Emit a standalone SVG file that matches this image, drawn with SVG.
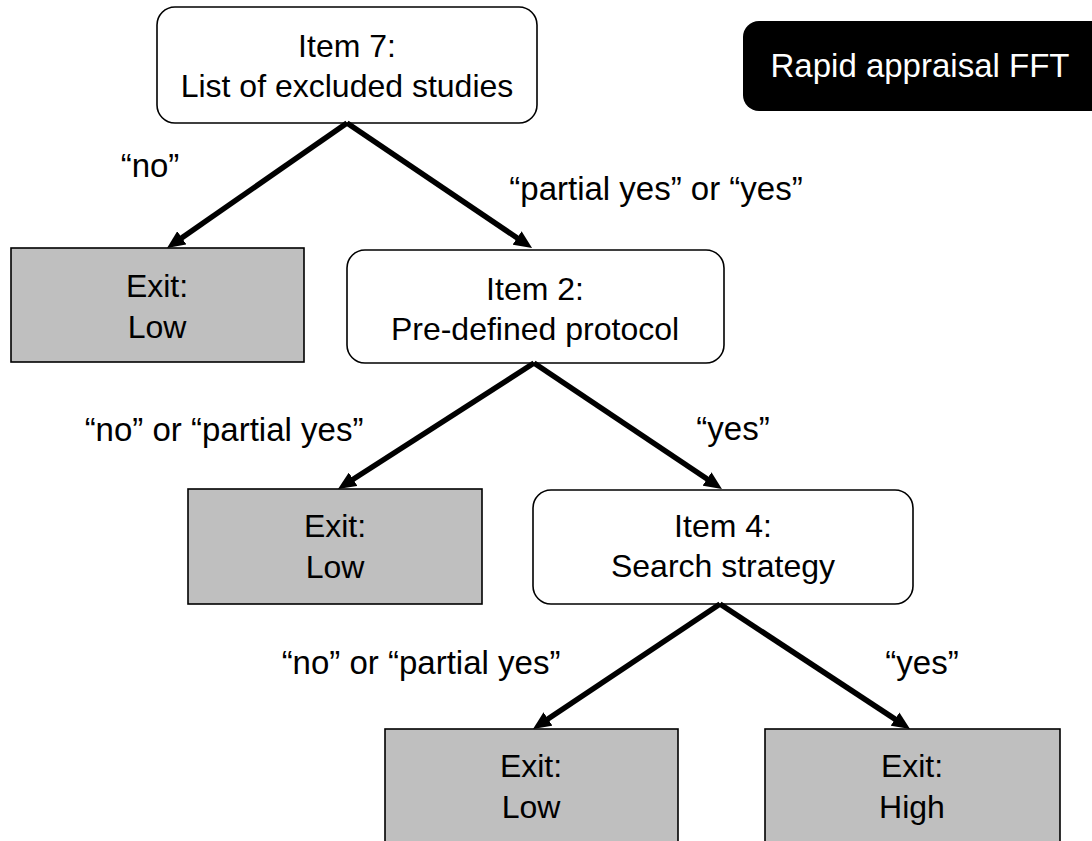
<svg xmlns="http://www.w3.org/2000/svg" width="1092" height="841" viewBox="0 0 1092 841">
  <style>
    .item { fill: #ffffff; stroke: #000000; stroke-width: 1.6; }
    .exit { fill: #bfbfbf; stroke: #000000; stroke-width: 1.6; }
    .txt { font-family: "Liberation Sans", Arial, sans-serif; font-size: 32px; fill: #000000; text-anchor: middle; }
    .lbl { font-family: "Liberation Sans", Arial, sans-serif; font-size: 33px; fill: #000000; text-anchor: middle; }
    .wtxt { font-family: "Liberation Sans", Arial, sans-serif; font-size: 33px; fill: #ffffff; text-anchor: middle; }
    .conn { stroke: #000000; stroke-width: 5.5; fill: none; marker-end: url(#arrow); }
  </style>
  <defs>
    <marker id="arrow" markerUnits="userSpaceOnUse" viewBox="0 0 18 16" markerWidth="18" markerHeight="16" refX="6" refY="8" orient="auto">
      <path d="M0,0 L18,8 L0,16 z" fill="#000000"/>
    </marker>
  </defs>
  <rect width="1092" height="841" fill="#ffffff"/>

  <g id="title">
    <rect x="743" y="21" width="380" height="90" rx="16" fill="#000000"/>
    <text class="wtxt" x="920" y="77">Rapid appraisal FFT</text>
  </g>

  <g id="item7">
    <rect class="item" x="157" y="7" width="380" height="116" rx="18"/>
    <text class="txt" x="347" y="57">Item 7:</text>
    <text class="txt" x="347" y="97">List of excluded studies</text>
  </g>

  <g id="exit1">
    <rect class="exit" x="11" y="248" width="293" height="114"/>
    <text class="txt" x="157" y="297">Exit:</text>
    <text class="txt" x="157" y="338">Low</text>
  </g>

  <g id="item2">
    <rect class="item" x="347" y="250" width="377" height="113" rx="18"/>
    <text class="txt" x="535" y="300">Item 2:</text>
    <text class="txt" x="535" y="340">Pre-defined protocol</text>
  </g>

  <g id="exit2">
    <rect class="exit" x="188" y="489" width="294" height="115"/>
    <text class="txt" x="335" y="537">Exit:</text>
    <text class="txt" x="335" y="578">Low</text>
  </g>

  <g id="item4">
    <rect class="item" x="533" y="490" width="380" height="114" rx="18"/>
    <text class="txt" x="723" y="537">Item 4:</text>
    <text class="txt" x="723" y="577">Search strategy</text>
  </g>

  <g id="exit3">
    <rect class="exit" x="385" y="729" width="293" height="130"/>
    <text class="txt" x="531" y="777">Exit:</text>
    <text class="txt" x="531" y="818">Low</text>
  </g>

  <g id="exit4">
    <rect class="exit" x="765" y="729" width="295" height="130"/>
    <text class="txt" x="912" y="777">Exit:</text>
    <text class="txt" x="912" y="818">High</text>
  </g>

  <g id="connectors">
    <line class="conn" x1="347" y1="123" x2="176.9" y2="241.2"/>
    <line class="conn" x1="347" y1="123" x2="522.1" y2="241.3"/>
    <line class="conn" x1="534" y1="363" x2="348.1" y2="482.5"/>
    <line class="conn" x1="534" y1="363" x2="712.0" y2="482.3"/>
    <line class="conn" x1="720" y1="604" x2="543.0" y2="722.3"/>
    <line class="conn" x1="720" y1="604" x2="900.0" y2="722.4"/>
    <text class="lbl" x="150" y="177">“no”</text>
    <text class="lbl" x="656" y="200">“partial yes” or “yes”</text>
    <text class="lbl" x="224" y="441">“no” or “partial yes”</text>
    <text class="lbl" x="733" y="440">“yes”</text>
    <text class="lbl" x="421" y="674">“no” or “partial yes”</text>
    <text class="lbl" x="922" y="674">“yes”</text>
  </g>
</svg>
